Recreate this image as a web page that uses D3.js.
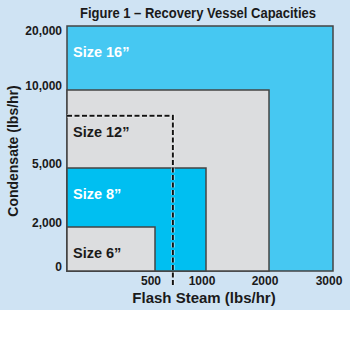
<!DOCTYPE html>
<html>
<head>
<meta charset="utf-8">
<script src="https://cdn.jsdelivr.net/npm/d3@7"></script>
<style>
    body { margin: 0; background: #ffffff; }
    text { font-family: "Liberation Sans", Arial, Helvetica, sans-serif; font-weight: bold; }
</style>
</head>
<body>
<div id="chart-container"></div>
<script>
// Recovery vessel capacity chart

// vessel sizes, drawn largest first so the smaller ones sit on top
const sizes = ["Size 16\u201d", "Size 12\u201d", "Size 8\u201d", "Size 6\u201d"];
const steamMax = [3000, 2000, 1000, 500];        // lbs/hr flash steam
const condensateMax = [20000, 10000, 5000, 2000]; // lbs/hr condensate

// tick labels on both axes
const xTicks = [500, 1000, 2000, 3000];
const yTicks = [0, 2000, 5000, 10000, 20000];

// example operating point (dashed lines)
const markSteam = 675;
const markCondensate = 8350;

const width = 350;
const height = 341;

const svg = d3.select("#chart-container")
    .append("svg")
    .attr("width", width)
    .attr("height", height);

// light blue panel
svg.append("rect")
    .attr("x", 0).attr("y", 0)
    .attr("width", width).attr("height", 310)
    .attr("fill", "#cfe3f3");

// the axes are not linear, each tick gets its own segment
const x = d3.scaleLinear()
    .domain([0, 500, 1000, 2000, 3000])
    .range([67, 155, 206, 269, 333]);

const y = d3.scaleLinear()
    .domain([0, 2000, 5000, 10000, 20000])
    .range([271, 227, 168, 90, 26]);

const fills = ["#46c8f2", "#dcdddf", "#00bff1", "#dcdddf"];
const textFill = ["#ffffff", "#1a1a1a", "#ffffff", "#1a1a1a"];

const data = sizes.map((s, i) => ({
    size: s, steam: steamMax[i], cond: condensateMax[i], i: i
}));

// Boxes
svg.selectAll("rect.box")
    .data(data)
    .enter()
    .append("rect")
    .attr("class", "box")
    .attr("x", x(0))
    .attr("y", d => y(d.cond))
    .attr("width", d => x(d.steam) - x(0))
    .attr("height", d => y(0) - y(d.cond))
    .attr("fill", d => fills[d.i])
    .attr("stroke", "#444")
    .attr("stroke-width", 1.5);

// Dashed lines to the operating point (white halo under black dashes)
const dashPath = `M${x(0)},${y(markCondensate)} H${x(markSteam)} V${y(0) + 14}`;
svg.append("path")
    .attr("d", dashPath)
    .attr("fill", "none")
    .attr("stroke", "#ffffff")
    .attr("stroke-opacity", 0.7)
    .attr("stroke-width", 3.5)
    .attr("stroke-dasharray", "5,2.5");
svg.append("path")
    .attr("d", dashPath)
    .attr("fill", "none")
    .attr("stroke", "#111")
    .attr("stroke-width", 2)
    .attr("stroke-dasharray", "5,2.5");

// Box labels (12" label goes under the dashed line)
svg.selectAll("text.size")
    .data(data)
    .enter()
    .append("text")
    .attr("class", "size")
    .attr("x", x(0) + 6)
    .attr("y", d => d.i === 1 ? y(markCondensate) + 21 : y(d.cond) + 31)
    .attr("font-size", "14.5px")
    .attr("fill", d => textFill[d.i])
    .text(d => d.size);

// Y tick labels
svg.selectAll("text.ytick")
    .data(yTicks)
    .enter()
    .append("text")
    .attr("class", "ytick")
    .attr("x", 62)
    .attr("y", d => Math.max(y(d) - 4, y(20000) + 5))
    .attr("dy", "0.35em")
    .attr("text-anchor", "end")
    .attr("font-size", "12px")
    .attr("fill", "#1a1a1a")
    .text(d => d3.format(",")(d));

// X tick labels
svg.selectAll("text.xtick")
    .data(xTicks)
    .enter()
    .append("text")
    .attr("class", "xtick")
    .attr("x", d => x(d) - 4)
    .attr("y", 285)
    .attr("text-anchor", "middle")
    .attr("font-size", "12px")
    .attr("fill", "#1a1a1a")
    .text(d => d);

// Title
svg.append("text")
    .attr("x", 198)
    .attr("y", 17.5)
    .attr("text-anchor", "middle")
    .attr("font-size", "14px")
    .attr("textLength", 236)
    .attr("lengthAdjust", "spacingAndGlyphs")
    .attr("fill", "#1a1a1a")
    .text("Figure 1 \u2013 Recovery Vessel Capacities");

// Axis titles
svg.append("text")
    .attr("x", 204)
    .attr("y", 303)
    .attr("text-anchor", "middle")
    .attr("font-size", "15px")
    .attr("fill", "#1a1a1a")
    .text("Flash Steam (lbs/hr)");

svg.append("text")
    .attr("transform", "translate(18,151) rotate(-90)")
    .attr("text-anchor", "middle")
    .attr("font-size", "14px")
    .attr("fill", "#1a1a1a")
    .text("Condensate (lbs/hr)");
</script>
</body>
</html>
